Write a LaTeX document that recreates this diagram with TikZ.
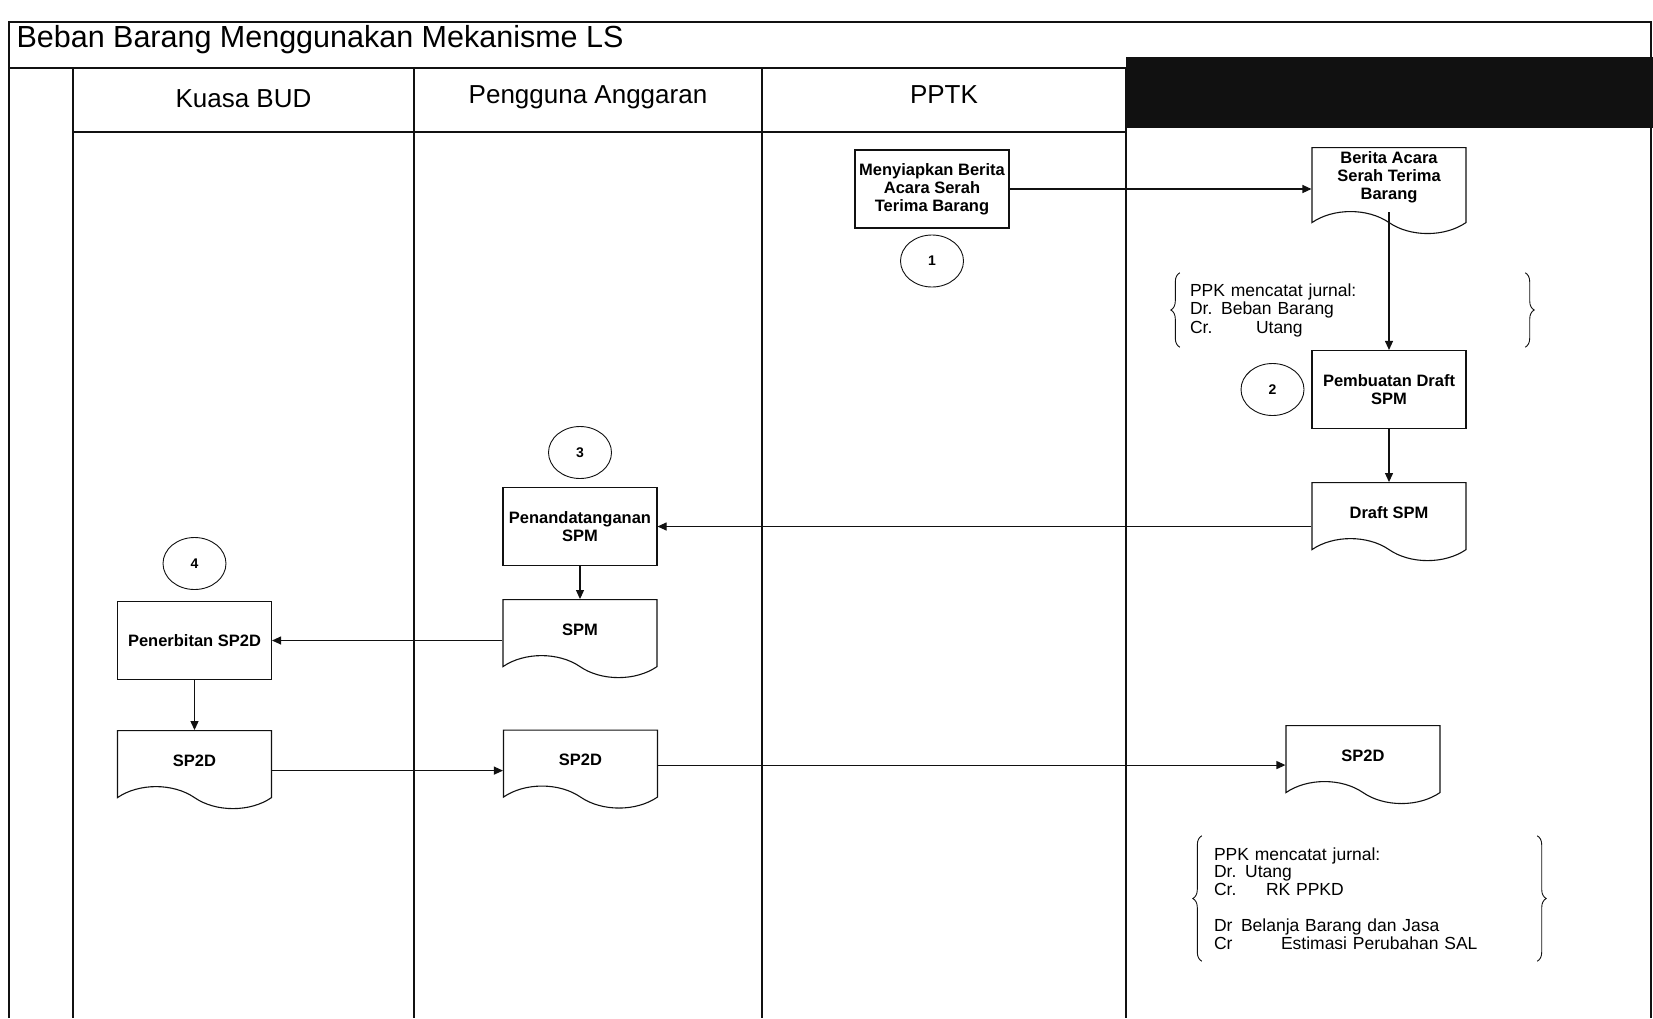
\documentclass[tikz,border=0pt]{standalone}
\usepackage{fontspec}
\setmainfont{Liberation Sans}
\usetikzlibrary{arrows.meta,positioning,shapes.geometric,shapes.symbols,decorations.pathreplacing}
\definecolor{ink}{HTML}{111111}
\tikzset{
  lane/.style={draw=ink, line width=1.1pt},
  lanehead/.style={font=\fontsize{26}{30}\selectfont},
  procbox/.style={rectangle, draw=ink, fill=white, line width=1.1pt, align=center,
              minimum width=154pt, minimum height=78pt, inner sep=4pt, font=\fontsize{16.5}{18}\selectfont\bfseries},
  docbox/.style={tape, tape bend top=none, tape bend bottom=out and in, tape bend height=22pt,
              draw=ink, fill=white, line width=1.1pt, align=center, minimum width=154pt,
              minimum height=78pt, inner sep=4pt, text height=20pt, text depth=5pt, font=\fontsize{16.5}{18}\selectfont\bfseries},
  stepnum/.style={ellipse, draw=ink, line width=0.9pt, inner sep=0pt, minimum width=63pt,
              minimum height=52pt, font=\fontsize{14}{16}\selectfont\bfseries},
  jurnal/.style={rectangle, align=left, inner ysep=0pt, font=\fontsize{17.5}{17.8}\selectfont},
  curly/.style={decorate, decoration={brace, amplitude=9pt}, draw=ink, line width=0.9pt},
  flow/.style={-{Triangle[length=9pt,width=8pt]}, draw=ink, line width=1.1pt}
}
\begin{document}
\begin{tikzpicture}[x=1pt, y=-1pt]
\useasboundingbox (0,0) rectangle (1653,1018);
\fill[white] (0,0) rectangle (1653,1018);
% frame and swimlanes
\fill[ink] (1126,57) rectangle (1653,128);
\draw[lane] (9,1018) -- (9,22) -- (1651,22) -- (1651,1018);
\draw[lane] (9,68) -- (1126,68);
\draw[lane] (73,132) -- (1126,132);
\foreach \x in {73,414,762,1126} \draw[lane] (\x,68) -- (\x,1018);
\node[anchor=west, font=\fontsize{30.5}{36}\selectfont] (title) at (13,40) {Beban Barang Menggunakan Mekanisme LS};
\node[lanehead] (hbud) at (243.5,99) {Kuasa BUD};
\node[lanehead] (hpa) at (588,97) {Pengguna Anggaran};
\node[lanehead] (hpptk) at (944,95) {PPTK};

\node[procbox] (siapkan) at (932,189) {Menyiapkan Berita\\Acara Serah\\Terima Barang};
\node[stepnum, below=6pt of siapkan] (n1) {1};
\node[docbox, anchor=north, text height=48pt, text depth=8pt] (berita) at (1389,147) {Berita Acara\\Serah Terima\\Barang};
\node[jurnal, font=\fontsize{17.5}{18.5}\selectfont, text width=325pt, inner xsep=10pt, minimum width=345pt, minimum height=74pt] (jrn1) at (1352.5,310)
  {PPK mencatat jurnal:\\Dr. Beban Barang\\\makebox[66pt][l]{Cr.}Utang};
\node[procbox] (buatdraft) at (1389,389.5) {Pembuatan Draft\\SPM};
\node[stepnum, left=7pt of buatdraft] (n2) {2};
\node[docbox, below=53pt of buatdraft] (draft) {Draft SPM};

\node[procbox] (tandatangan) at (580,526.5) {Penandatanganan\\SPM};
\node[stepnum, above=8pt of tandatangan] (n3) {3};
\node[docbox, below=33pt of tandatangan] (spm) {SPM};

\node[procbox] (terbit) at (194.5,640.5) {Penerbitan SP2D};
\node[stepnum, above=11pt of terbit] (n4) {4};
\node[docbox, below=50pt of terbit] (sptA) {SP2D};
\node[docbox, anchor=north] (sptB) at (580.5,729.5) {SP2D};
\node[docbox, anchor=north] (sptC) at (1363,725) {SP2D};
\node[jurnal, text width=311pt, inner xsep=12pt, minimum width=335pt, minimum height=125pt] (jrn2) at (1369.5,898.5)
  {PPK mencatat jurnal:\\Dr. Utang\\\makebox[52pt][l]{Cr.}RK PPKD\\[18pt]\makebox[27pt][l]{Dr}Belanja Barang dan Jasa\\\makebox[67pt][l]{Cr}Estimasi Perubahan SAL};

\draw[curly] (jrn1.south west) -- (jrn1.north west);
\draw[curly] (jrn1.north east) -- (jrn1.south east);
\draw[curly] (jrn2.south west) -- (jrn2.north west);
\draw[curly] (jrn2.north east) -- (jrn2.south east);

\draw[flow] (siapkan.east) -- (berita.west |- siapkan.east);
\draw[flow] (berita.south) -- (buatdraft.north);
\draw[flow] (buatdraft.south) -- (draft.north);
\draw[flow] (draft.west |- tandatangan.east) -- (tandatangan.east);
\draw[flow] (tandatangan.south) -- (spm.north);
\draw[flow] (spm.west |- terbit.east) -- (terbit.east);
\draw[flow] (terbit.south) -- (sptA.north);
\draw[flow] ([yshift=-12pt]sptA.east) -- ([yshift=-12pt]sptA.east -| sptB.west);
\draw[flow] ([yshift=-7pt]sptB.east) -- ([yshift=-7pt]sptB.east -| sptC.west);
\end{tikzpicture}
\end{document}
